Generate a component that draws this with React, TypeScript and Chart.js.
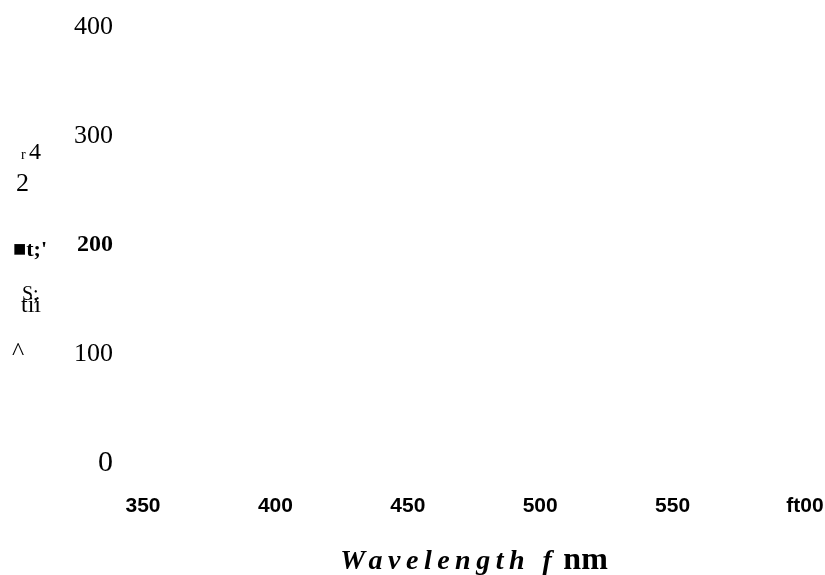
import React, { useEffect, useRef } from "react";
import { Chart, registerables } from "chart.js";

Chart.register(...registerables);

// ---- data ----
const xTickValues = [350, 400, 450, 500, 550, 600];
const xTickLabels = ["350", "400", "450", "500", "550", "ft00"];
const yTickValues = [0, 100, 200, 300, 400];
const yTickLabels = ["0", "100", "200", "300", "400"];
const seriesPoints: { x: number; y: number }[] = []; // the plot area is empty in the reference
const xTitleMain = "Wavelength f";
const xTitleUnit = "nm";
const yTitleFragments = ["r", "4", "2", "\u25A0t;'", "S;", "tii", "^"];

const SERIF = '"Liberation Serif", "Times New Roman", serif';
const SANS = '"Liberation Sans", Arial, sans-serif';

const titlesPlugin = {
  id: "axisTitles",
  afterDraw(chart: any) {
    const { ctx, chartArea } = chart;
    ctx.save();
    ctx.fillStyle = "#000";
    ctx.textAlign = "left";
    ctx.textBaseline = "alphabetic";

    // x axis title: bold italic letter-spaced part + bold unit
    const mainFont = `italic bold 28px ${SERIF}`;
    const unitFont = `bold 32px ${SERIF}`;
    ctx.font = mainFont;
    (ctx as any).letterSpacing = "5.5px";
    const wMain = ctx.measureText(xTitleMain).width;
    (ctx as any).letterSpacing = "0px";
    ctx.font = unitFont;
    const gap = 6;
    const wUnit = ctx.measureText(xTitleUnit).width;
    const total = wMain + gap + wUnit;
    const cx = (chartArea.left + chartArea.right) / 2;
    const startX = cx - total / 2;
    const baseY = chartArea.bottom + 106;
    ctx.font = mainFont;
    (ctx as any).letterSpacing = "5.5px";
    ctx.fillText(xTitleMain, startX, baseY);
    (ctx as any).letterSpacing = "0px";
    ctx.font = unitFont;
    ctx.fillText(xTitleUnit, startX + wMain + gap, baseY);

    // y axis title fragments (garbled, as in the reference)
    const layout = [
      { font: `14px ${SERIF}`, x: 21, y: 159 },
      { font: `24px ${SERIF}`, x: 29, y: 159 },
      { font: `26px ${SERIF}`, x: 16, y: 191 },
      { font: `bold 22px ${SERIF}`, x: 13, y: 256 },
      { font: `20px ${SERIF}`, x: 22, y: 300 },
      { font: `24px ${SERIF}`, x: 21, y: 312 },
      { font: `26px ${SERIF}`, x: 12, y: 360 },
    ];
    yTitleFragments.forEach((t, i) => {
      const l = layout[i];
      ctx.font = l.font;
      ctx.fillText(t, l.x, l.y);
    });
    ctx.restore();
  },
};

export default function App() {
  const canvasRef = useRef<HTMLCanvasElement | null>(null);

  useEffect(() => {
    if (!canvasRef.current) return;
    const chart = new Chart(canvasRef.current, {
      type: "scatter",
      data: {
        datasets: [
          {
            label: "spectrum",
            data: seriesPoints,
            borderColor: "#000",
            backgroundColor: "#000",
            showLine: true,
            pointRadius: 0,
          },
        ],
      },
      options: {
        animation: false,
        responsive: false,
        devicePixelRatio: 1,
        layout: { padding: { left: 0, right: 20, top: 27, bottom: 0 } },
        plugins: {
          legend: { display: false },
          tooltip: { enabled: false },
          title: { display: false },
        },
        scales: {
          x: {
            type: "linear",
            min: 350,
            max: 600,
            grid: { display: false, drawTicks: false },
            border: { display: false },
            afterBuildTicks: (scale: any) => {
              scale.ticks = xTickValues.map((v) => ({ value: v }));
            },
            afterFit: (scale: any) => {
              scale.height = 112;
              scale.paddingLeft = 0;
              scale.paddingRight = 0;
            },
            ticks: {
              maxRotation: 0,
              autoSkip: false,
              padding: 31,
              color: "#000",
              font: { family: SANS, size: 21, weight: "bold" },
              callback: (v: any) => {
                const i = xTickValues.indexOf(Number(v));
                return i >= 0 ? xTickLabels[i] : "";
              },
            },
          },
          y: {
            type: "linear",
            min: 0,
            max: 400,
            grid: { display: false, drawTicks: false },
            border: { display: false },
            afterBuildTicks: (scale: any) => {
              scale.ticks = yTickValues.map((v) => ({ value: v }));
            },
            afterFit: (scale: any) => {
              scale.width = 143;
              scale.paddingTop = 0;
              scale.paddingBottom = 0;
            },
            ticks: {
              autoSkip: false,
              padding: 30,
              color: "#000",
              font: (c: any) => {
                const v = c.tick ? c.tick.value : -1;
                if (v === 200) return { family: SERIF, size: 24, weight: "bold" };
                if (v === 0) return { family: SERIF, size: 30 };
                return { family: SERIF, size: 26 };
              },
              callback: (v: any) => {
                const i = yTickValues.indexOf(Number(v));
                return i >= 0 ? yTickLabels[i] : "";
              },
            },
          },
        },
      },
      plugins: [titlesPlugin],
    } as any);
    return () => chart.destroy();
  }, []);

  return (
    <div style={{ position: "fixed", left: 0, top: 0, width: 825, height: 575, background: "#fff" }}>
      <canvas ref={canvasRef} width={825} height={575} style={{ display: "block" }} />
    </div>
  );
}
